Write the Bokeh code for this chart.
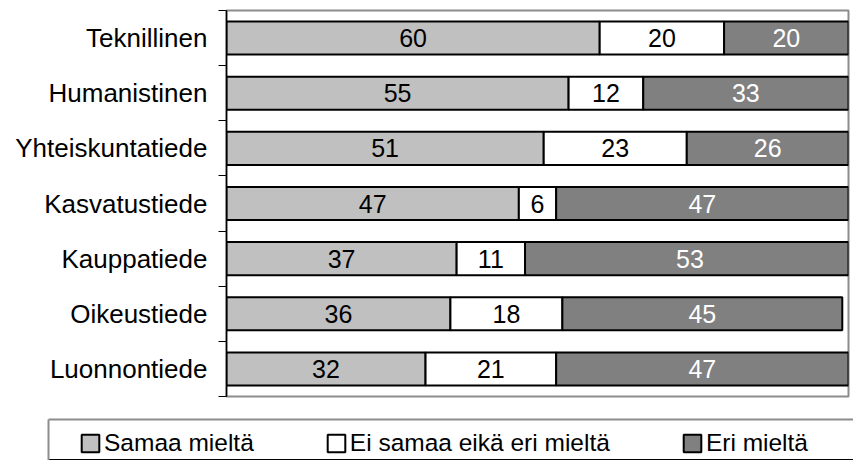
import numpy as np
from bokeh.plotting import figure
from bokeh.layouts import column
from bokeh.models import (ColumnDataSource, Range1d, FixedTicker, Legend, LegendItem,
                          LinearAxis)
from bokeh.core.properties import value
from bokeh.embed import file_html
from bokeh.resources import INLINE

# ---- data ----
categories = ["Teknillinen", "Humanistinen", "Yhteiskuntatiede", "Kasvatustiede",
              "Kauppatiede", "Oikeustiede", "Luonnontiede"]
samaa = [60, 55, 51, 47, 37, 36, 32]
ei_samaa_eika_eri = [20, 12, 23, 6, 11, 18, 21]
eri = [20, 33, 26, 47, 53, 45, 47]
series_names = ["Samaa mieltä", "Ei samaa eikä eri mieltä", "Eri mieltä"]

FONT = "Liberation Sans"
colors = ["#c0c0c0", "#ffffff", "#808080"]
label_colors = ["black", "black", "white"]
GRAY = "#8c8c8c"

n = len(categories)
ypos = [n - i for i in range(n)]  # first category on top

src = ColumnDataSource(dict(y=ypos, samaa=samaa, ei=ei_samaa_eika_eri, eri=eri))
stackers = ["samaa", "ei", "eri"]

p = figure(frame_width=622, frame_height=386,
           x_range=Range1d(0, 100), y_range=Range1d(0.5, n + 0.5),
           output_backend="svg", toolbar_location=None,
           min_border_left=226, min_border_right=5,
           min_border_top=10, min_border_bottom=22)
p.frame_align = False

p.hbar_stack(stackers, y="y", height=0.6, fill_color=colors,
             line_color="black", line_width=2, source=src)

# value labels
vals = np.array([samaa, ei_samaa_eika_eri, eri], dtype=float)
cum = np.cumsum(vals, axis=0)
mids = cum - vals / 2
for k in range(3):
    s = ColumnDataSource(dict(x=mids[k], y=ypos, t=[str(int(v)) for v in vals[k]]))
    p.text(x="x", y="y", text="t", source=s, text_align="center",
           text_baseline="middle", text_font=value(FONT),
           text_font_size="25px", text_color=label_colors[k])

# axes
p.xaxis.visible = False
p.grid.visible = False
ax = p.yaxis[0]
ax.ticker = FixedTicker(ticks=ypos, minor_ticks=[k + 0.5 for k in range(n + 1)])
ax.major_label_overrides = {y: c for y, c in zip(ypos, categories)}
ax.major_tick_line_color = None
ax.major_tick_out = 0
ax.major_tick_in = 0
ax.minor_tick_out = 8
ax.minor_tick_in = 0
ax.minor_tick_line_color = "black"
ax.minor_tick_line_width = 1
ax.axis_line_color = "black"
ax.axis_line_width = 1.5
ax.major_label_text_font = FONT
ax.major_label_text_font_size = "26px"
ax.major_label_text_color = "black"
ax.major_label_standoff = 11

p.outline_line_color = GRAY
p.outline_line_width = 2
p.background_fill_color = "white"
p.border_fill_color = "white"

# ---- legend panel (box open to the right/bottom, as in the original crop) ----
q = figure(width=853, height=42, x_range=Range1d(0, 100), y_range=Range1d(100, 101),
           output_backend="svg", toolbar_location=None,
           min_border_left=48, min_border_right=0, min_border_top=1, min_border_bottom=0)
q.frame_align = False
q.xaxis.visible = False
q.yaxis.visible = False
q.grid.visible = False
q.outline_line_color = None
for loc in ("left", "above"):
    a = LinearAxis(ticker=FixedTicker(ticks=[]), axis_line_color=GRAY, axis_line_width=2,
                   major_tick_line_color=None, minor_tick_line_color=None,
                   major_tick_out=0, major_tick_in=0, minor_tick_out=0, minor_tick_in=0,
                   major_label_standoff=0, major_label_text_font_size="0px")
    q.add_layout(a, loc)

# same series in the legend panel (outside its visible y range) to carry legend glyphs
legend_renderers = q.hbar_stack(stackers, y="y", height=0.6, fill_color=colors,
                                line_color="black", line_width=2, source=src)

legend = Legend(items=[LegendItem(label=nm, renderers=[r]) for nm, r in zip(series_names, legend_renderers)],
                orientation="horizontal", location=(31, 3),
                padding=0, margin=0, spacing=71, label_standoff=3,
                glyph_width=22, glyph_height=22, label_height=22,
                label_text_font=FONT, label_text_font_size="24.5px",
                label_text_color="black",
                border_line_alpha=0, background_fill_alpha=0)
q.add_layout(legend, "center")

layout = column(p, q, spacing=0)
open("out.html", "w").write(file_html(layout, INLINE))
